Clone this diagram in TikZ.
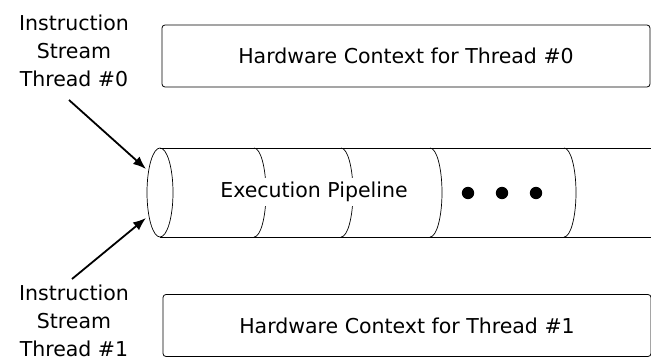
\documentclass[tikz,border=0pt]{standalone}
\usepackage{fontspec}
\setmainfont{DejaVu Sans}
\usetikzlibrary{arrows.meta}
\usetikzlibrary{calc}
\tikzset{
  ctxbox/.style={draw, rounded corners=3pt, line width=0.8pt, minimum width=488pt, minimum height=62pt, inner sep=0pt},
  streamlbl/.style={align=center, inner sep=0pt},
  streamarrow/.style={line width=1.8pt, -{Latex[length=13pt,width=10pt]}},
}
\begin{document}
\begin{tikzpicture}[x=1pt,y=-1pt,font=\fontsize{20.5}{28}\selectfont]
\useasboundingbox (0,0) rectangle (651,364);
% hardware contexts
\node[ctxbox] (ctx0) at (406,56) {Hardware Context for Thread \#0};
\node[ctxbox] (ctx1) at (407,325.5) {Hardware Context for Thread \#1};
% the pipeline
\draw[line width=0.8pt] (160,148) -- (652,148);
\draw[line width=0.8pt] (160,237) -- (652,237);
\draw[line width=0.7pt] (160,192.5) ellipse (13 and 44.5);
%     stage borders
\foreach \x in {254,341,430,564}
  \draw[line width=0.7pt] (\x,148) arc (-90:90:12 and 44.5);
\node[fill=white, inner sep=4pt] (pipe) at (314,192) {Execution Pipeline};
\foreach \x/\n in {468/d1,502/d2,536/d3}
  \fill (\x,193) circle (6.2) coordinate (\n);
% instruction streams
\node[streamlbl] (in0) at (74,51) {Instruction\\Stream\\Thread \#0};
\node[streamlbl] (in1) at (74,321) {Instruction\\Stream\\Thread \#1};
\coordinate (tip0) at (146,169);
\coordinate (tip1) at (146,218);
\coordinate (tail0) at (69,100);
\coordinate (tail1) at (72,279);
\draw[streamarrow] (tail0) -- (tip0);
\draw[streamarrow] (tail1) -- (tip1);
\end{tikzpicture}
\end{document}
